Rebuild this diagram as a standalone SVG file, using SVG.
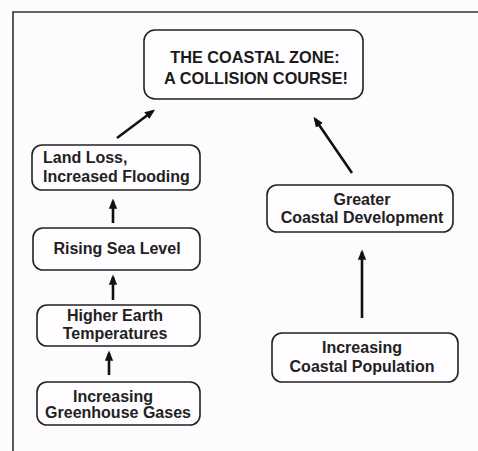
<svg xmlns="http://www.w3.org/2000/svg" width="478" height="451" viewBox="0 0 478 451">
<style>
.box{fill:#fffdff;stroke:#222;stroke-width:1.6}
.t{font-family:"Liberation Sans",Arial,sans-serif;font-size:16px;font-weight:bold;fill:#222;text-anchor:middle}
.title{font-family:"Liberation Sans",Arial,sans-serif;font-size:16.3px;font-weight:bold;fill:#1a1a1a;text-anchor:middle}
.c{stroke:#111;stroke-width:2.6;fill:none;marker-end:url(#ah)}
</style>
<defs>
<marker id="ah" markerWidth="4" markerHeight="4" refX="3" refY="2" orient="auto" markerUnits="strokeWidth">
<path d="M0,0.4 L4,2 L0,3.6 Z" fill="#111"/>
</marker>
</defs>
<rect width="478" height="451" fill="#fdfbfd"/>
<path d="M13,451 V12 H478" fill="none" stroke="#333" stroke-width="1.6"/>
<g id="connectors">
<line class="c" x1="117" y1="138" x2="153" y2="111"/>
<line class="c" x1="352" y1="173" x2="315" y2="119"/>
<line class="c" x1="113" y1="223" x2="113" y2="201"/>
<line class="c" x1="113" y1="300" x2="113" y2="277"/>
<line class="c" x1="109" y1="375" x2="109" y2="353"/>
<line class="c" x1="362" y1="318" x2="362" y2="252"/>
</g>
<g id="title">
<rect class="box" x="144" y="30" width="219" height="69" rx="11"/>
<text class="title" x="255" y="63">THE COASTAL ZONE:</text>
<text class="title" x="256" y="84">A COLLISION COURSE!</text>
</g>
<g id="landloss">
<rect class="box" x="32" y="145" width="168" height="45" rx="10"/>
<text class="t" x="43" y="163" style="text-anchor:start">Land Loss,</text>
<text class="t" x="43" y="182" style="text-anchor:start">Increased Flooding</text>
</g>
<g id="sealevel">
<rect class="box" x="33" y="228" width="167" height="42" rx="10"/>
<text class="t" x="117" y="254">Rising Sea Level</text>
</g>
<g id="temperatures">
<rect class="box" x="37" y="305" width="163" height="41" rx="10"/>
<text class="t" x="115" y="321">Higher Earth</text>
<text class="t" x="115" y="339">Temperatures</text>
</g>
<g id="greenhouse">
<rect class="box" x="37" y="382" width="163" height="43" rx="10"/>
<text class="t" x="113" y="402">Increasing</text>
<text class="t" x="118" y="418">Greenhouse Gases</text>
</g>
<g id="development">
<rect class="box" x="267" y="185" width="186" height="47" rx="10"/>
<text class="t" x="362" y="205">Greater</text>
<text class="t" x="362" y="223">Coastal Development</text>
</g>
<g id="population">
<rect class="box" x="272" y="333" width="186" height="49" rx="10"/>
<text class="t" x="362" y="353">Increasing</text>
<text class="t" x="362" y="372">Coastal Population</text>
</g>
</svg>
